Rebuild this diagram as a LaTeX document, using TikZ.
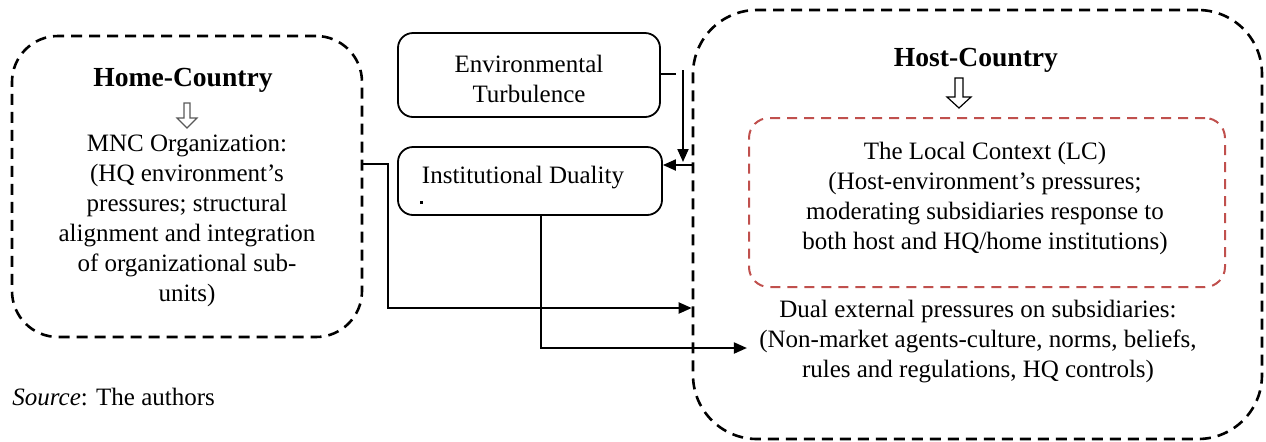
\documentclass[tikz,border=0pt]{standalone}
\usepackage{fontspec}
\setmainfont{Liberation Serif}
\usetikzlibrary{arrows.meta,fit}
\definecolor{lcred}{HTML}{C0504D}
\begin{document}
\begin{tikzpicture}[x=0.5pt,y=-0.5pt,
  body/.style={font=\fontsize{12.5}{15}\selectfont, align=center, inner sep=0pt},
  head/.style={font=\fontsize{13.8}{16}\selectfont\bfseries, inner sep=0pt},
  bigbox/.style={draw, line width=1.3pt, dash pattern=on 5.5pt off 3.5pt, inner sep=0pt},
  lcbox/.style={draw=lcred, line width=1pt, dash pattern=on 5pt off 3.5pt, inner sep=0pt, rounded corners=10pt},
  solidbox/.style={draw, line width=0.9pt, rounded corners=7.5pt, inner sep=0pt},
  conn/.style={line width=1pt},
  arr/.style={conn, -{Triangle[length=6.5pt,width=5.5pt]}},
  hollow/.style={draw, line width=0.6pt, fill=white}
]
\useasboundingbox (0,0) rectangle (1266,441);

% boxes
\node (home) [bigbox, rounded corners=23pt, fit={(12,36) (362,337)}] {};
\node (host) [bigbox, rounded corners=32pt, fit={(693,10) (1262,439)}] {};
\node (lc) [lcbox, fit={(749,118) (1225,287)}] {};
\node (env) [solidbox, fit={(398,33) (660,117)}] {};
\node (inst) [solidbox, fit={(398,147) (662,215)}] {};

% texts
\node (homet) [head] at (183,80) {Home-Country};
\node (mnc) [body] at (187,221) {MNC Organization:\\ (HQ environment’s\\ pressures; structural\\ alignment and integration\\ of organizational sub-\\ units)};
\node (hostt) [head] at (976,60) {Host-Country};
\node (lct) [body] at (985,198) {The Local Context (LC)\\ (Host-environment’s pressures;\\ moderating subsidiaries response to\\ both host and HQ/home institutions)};
\node (dual) [body] at (978,342) {Dual external pressures on subsidiaries:\\ (Non-market agents-culture, norms, beliefs,\\ rules and regulations, HQ controls)};
\node (envt) [body] at (529,79) {Environmental\\ Turbulence};
\node (instt) [body] at (523,178) {Institutional Duality};
\node (src) [body, anchor=west] at (12,397) {\textit{Source}: The authors};
\node (dot) [fill, minimum size=1.5pt, inner sep=0pt] at (421,202) {};

% hollow arrows
\draw[hollow, draw=black!65] (184,103) -- (190,103) -- (190,118) -- (197,118) -- (187,128) -- (177,118) -- (184,118) -- cycle;
\draw[hollow] (955,78) -- (963,78) -- (963,97) -- (971,97) -- (959,108) -- (947,97) -- (955,97) -- cycle;

% connectors
\coordinate (h1) at (388,164);
\coordinate (h2) at (388,308);
\draw[arr] (home.east |- h1) -- (h1) -- (h2) -- (host.west |- h2);
\coordinate (d1) at (541,348);
\draw[arr, shorten >=6pt] (inst.south -| d1) -- (d1) -- (dual.west |- d1);
\coordinate (e1) at (676,74);
\draw[conn] (env.east |- e1) -- (e1);
\coordinate (v1) at (683,70);
\coordinate (v2) at (683,162);
\draw[arr] (v1) -- (v2);
\coordinate (k) at (700,165);
\draw[arr] (host.west |- k) -- (inst.east |- k);
\end{tikzpicture}
\end{document}
